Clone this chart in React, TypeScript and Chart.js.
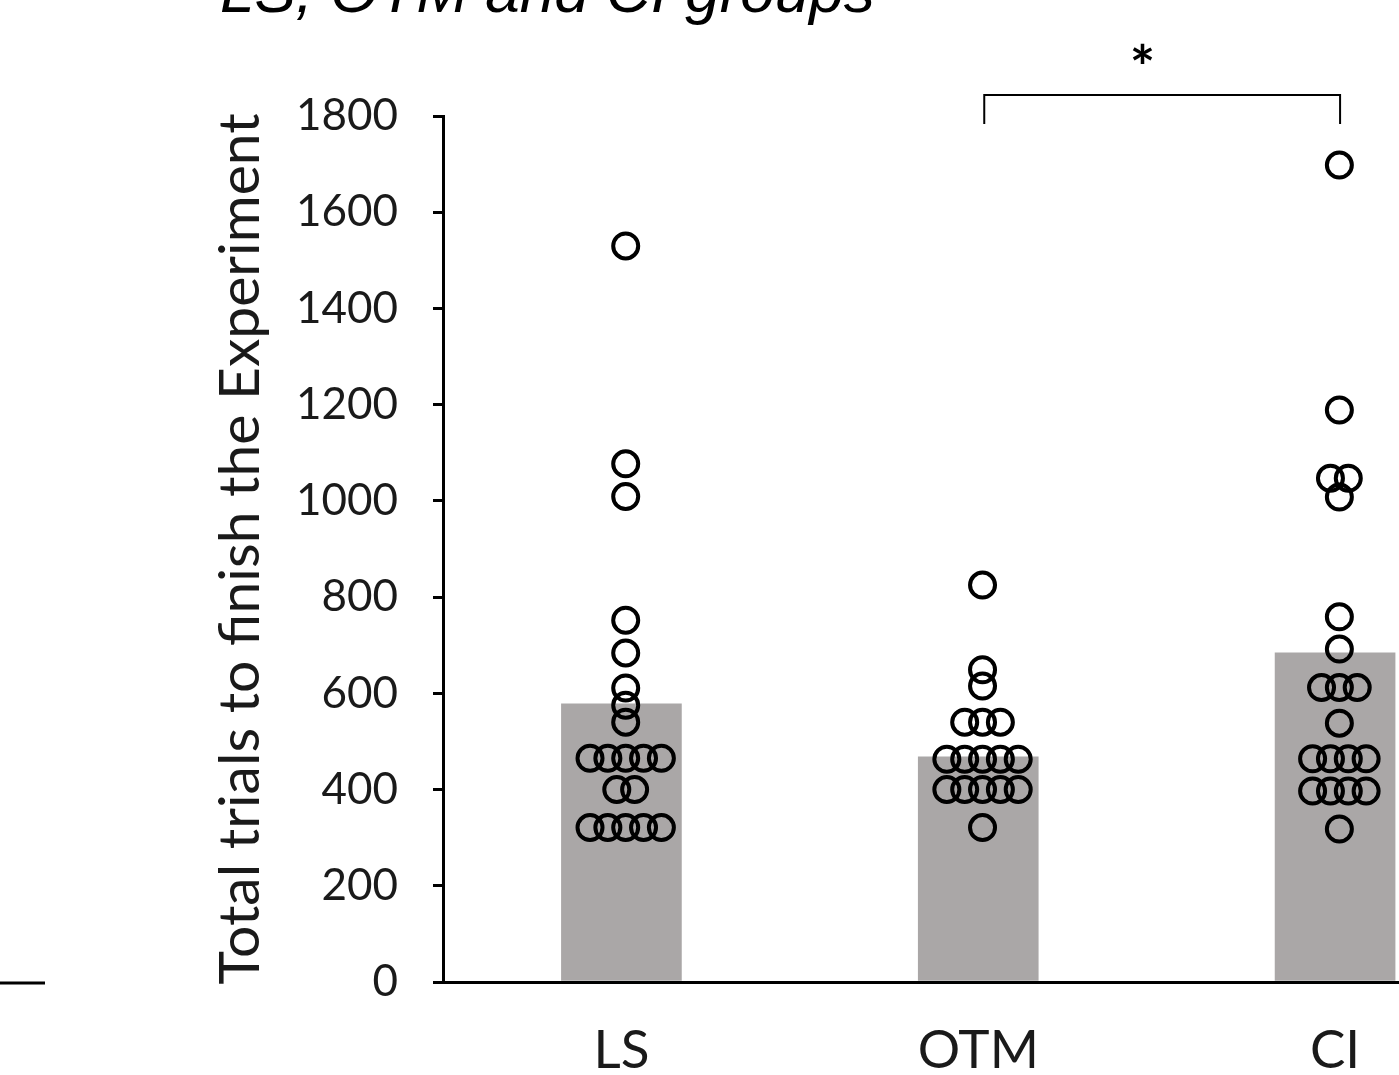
import React, { useEffect, useRef } from "react";
import { Chart, registerables } from "chart.js";

Chart.register(...registerables);

const titleText = "LS, OTM and CI groups";
const yAxisTitle = "Total trials to finish the Experiment";
const significanceLabel = "*";

const categories = ["LS", "OTM", "CI"];
const meanValues = [578, 468, 684];

const lsValues = [
  1530, 1077, 1009, 752, 684, 611, 575, 540,
  465, 465, 465, 465, 465,
  400, 400,
  321, 321, 321, 321, 321,
];
const otmValues = [
  825, 649, 615,
  540, 540, 540,
  463, 463, 463, 463, 463,
  400, 400, 400, 400, 400,
  321,
];
const ciValues = [
  1698, 1189, 1047, 1047, 1008, 759, 692,
  612, 612, 612,
  538,
  464, 464, 464, 464,
  397, 397, 397, 397,
  318,
];
const groupValues = [lsValues, otmValues, ciValues];

const yMin = 0;
const yMax = 1800;
const yStep = 200;

// beeswarm layout: identical values are spread side by side around the group centre
function swarm(values: number[], groupIndex: number, step: number, shift: number) {
  const counts = new Map<number, number>();
  values.forEach((v) => counts.set(v, (counts.get(v) || 0) + 1));
  const seen = new Map<number, number>();
  return values.map((v) => {
    const n = counts.get(v) || 1;
    const i = seen.get(v) || 0;
    seen.set(v, i + 1);
    return { x: groupIndex + shift + (i - (n - 1) / 2) * step, y: v };
  });
}

const annotations = {
  id: "annotations",
  afterDraw(chart: any) {
    const ctx = chart.ctx;
    const xs = chart.scales.x;
    const ys = chart.scales.y;
    ctx.save();
    // partially cropped figure title
    ctx.fillStyle = "#000";
    ctx.font = 'italic 62px "Liberation Sans", Arial, sans-serif';
    ctx.textAlign = "left";
    ctx.textBaseline = "alphabetic";
    ctx.fillText(titleText, 220, 12);

    // significance bracket between OTM and CI
    const x1 = xs.getPixelForValue(1) + 6;
    const x2 = xs.getPixelForValue(2) + 5;
    const yTop = ys.getPixelForValue(yMax) - 21;
    const yBot = yTop + 29;
    ctx.strokeStyle = "#000";
    ctx.lineWidth = 2;
    ctx.beginPath();
    ctx.moveTo(x1, yBot);
    ctx.lineTo(x1, yTop);
    ctx.lineTo(x2, yTop);
    ctx.lineTo(x2, yBot);
    ctx.stroke();

    ctx.font = 'bold 60px Lato, sans-serif';
    ctx.textAlign = "center";
    ctx.textBaseline = "alphabetic";
    ctx.fillText(significanceLabel, x1 + (x2 - x1) * 0.445, 89);

    // stray axis fragment of the neighbouring panel
    ctx.lineWidth = 3;
    ctx.beginPath();
    ctx.moveTo(0, 983);
    ctx.lineTo(45, 983);
    ctx.stroke();
    ctx.restore();
  },
};

export default function App() {
  const ref = useRef<HTMLCanvasElement | null>(null);

  useEffect(() => {
    if (!ref.current) return;
    const points = groupValues.flatMap((vals, gi) => swarm(vals, gi, 0.05, 0.012));
    const chart = new Chart(ref.current, {
      type: "bar",
      data: {
        datasets: [
          {
            type: "scatter",
            data: points,
            pointRadius: 12.5,
            pointBorderWidth: 4,
            borderColor: "#000",
            backgroundColor: "rgba(0,0,0,0)",
            pointBackgroundColor: "rgba(0,0,0,0)",
            pointBorderColor: "#000",
            order: 1,
          } as any,
          {
            type: "bar",
            data: categories.map((_, i) => ({ x: i, y: meanValues[i] })),
            backgroundColor: "#aaa7a7",
            barThickness: 120,
            order: 2,
          } as any,
        ],
      },
      options: {
        responsive: false,
        animation: false,
        layout: { padding: { top: 116, right: 12, left: 0, bottom: 0 } },
        plugins: {
          legend: { display: false },
          tooltip: { enabled: false },
          title: { display: false },
        },
        scales: {
          x: {
            type: "linear",
            offset: false,
            min: -0.5,
            max: categories.length - 0.5,
            afterBuildTicks: (s: any) => {
              s.ticks = categories.map((_, i) => ({ value: i }));
            },
            afterFit: (s: any) => {
              s.height = 93;
            },
            ticks: {
              callback: (v: any) => categories[Math.round(Number(v))] ?? "",
              font: { family: "Lato", size: 53 },
              color: "#1a1a1a",
              padding: 37,
              maxRotation: 0,
              autoSkip: false,
            },
            grid: { display: false, drawTicks: false },
            border: { display: true, color: "#000", width: 3 },
          },
          y: {
            min: yMin,
            max: yMax,
            afterFit: (s: any) => {
              s.width = 443;
            },
            ticks: {
              stepSize: yStep,
              callback: (v: any) => String(v),
              font: { family: "Lato", size: 44 },
              color: "#1a1a1a",
              padding: 35,
            },
            grid: {
              drawOnChartArea: false,
              drawTicks: true,
              tickLength: 10,
              color: "#000",
              lineWidth: 3,
            },
            border: { display: true, color: "#000", width: 3 },
            title: {
              display: true,
              text: yAxisTitle,
              font: { family: "Lato", size: 57 },
              color: "#1a1a1a",
              padding: { top: 206, bottom: 0 },
            },
          },
        },
      } as any,
      plugins: [annotations],
    });
    return () => chart.destroy();
  }, []);

  return (
    <div
      style={{
        position: "fixed",
        left: 0,
        top: 0,
        width: 1399,
        height: 1075,
        overflow: "hidden",
        background: "#fff",
      }}
    >
      <canvas ref={ref} width={1530} height={1075} style={{ display: "block" }} />
    </div>
  );
}
